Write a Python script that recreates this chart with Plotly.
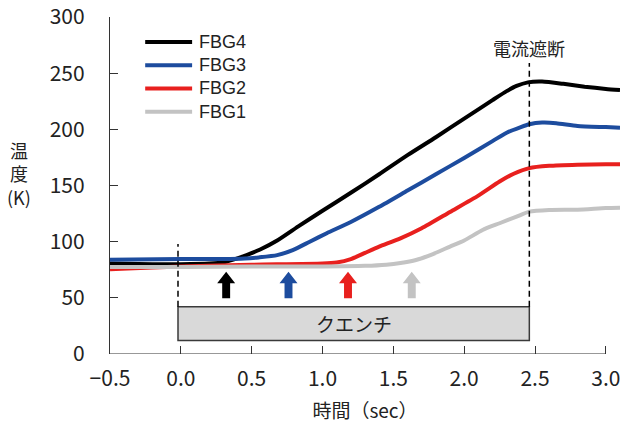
import plotly.graph_objects as go

# ---- measured temperatures of the four FBG sensors (time in s, temperature in K) ----
fbg4_t = [-0.5, -0.2, 0.0, 0.2, 0.3, 0.37, 0.44, 0.56, 0.68, 0.84, 1.0, 1.2, 1.4, 1.6,
          1.8, 2.0, 2.2, 2.3, 2.37, 2.45, 2.55, 2.7, 2.85, 3.0, 3.1]
fbg4_k = [80.5, 80, 80, 80.5, 81.5, 84, 87, 93, 101, 114.5, 127.5, 143.5, 160, 177,
          193, 209.5, 226, 234, 238.6, 241.8, 242.5, 240.5, 238, 236, 235]

fbg3_t = [-0.5, 0.0, 0.3, 0.45, 0.55, 0.68, 0.79, 0.91, 1.03, 1.2, 1.4, 1.6, 1.8, 2.0,
          2.2, 2.3, 2.4, 2.46, 2.55, 2.65, 2.8, 3.0, 3.1]
fbg3_k = [84, 84.5, 84.5, 85, 86, 88, 92.5, 100, 107.5, 117.5, 131, 145.5, 160, 174.5,
          189.5, 197, 202, 204.5, 206, 205.5, 203, 202, 201.5]

fbg2_t = [-0.5, -0.2, 0.0, 0.5, 1.0, 1.1, 1.2, 1.3, 1.4, 1.55, 1.7, 1.9, 2.1, 2.25,
          2.35, 2.46, 2.6, 2.8, 3.0, 3.1]
fbg2_k = [75.5, 77, 78, 79.5, 80.5, 81.5, 84.5, 90, 95.5, 103, 112, 126.5, 141, 153.5,
          160.5, 165.5, 167.5, 168.5, 169, 169]

fbg1_t = [-0.5, 0.0, 0.5, 1.0, 1.3, 1.45, 1.55, 1.66, 1.78, 1.9, 2.0, 2.13, 2.25, 2.37,
          2.46, 2.6, 2.8, 3.0, 3.1]
fbg1_k = [77.5, 77.5, 78, 78, 78.5, 79.5, 81, 83.7, 89, 95.6, 101, 110.4, 116.4, 122.3,
          126.7, 128.2, 128.5, 130, 130.3]

series_names = ["FBG4", "FBG3", "FBG2", "FBG1"]
series_colors = ["#000000", "#1d4c9e", "#e8201e", "#c3c3c3"]
series_t = [fbg4_t, fbg3_t, fbg2_t, fbg1_t]
series_k = [fbg4_k, fbg3_k, fbg2_k, fbg1_k]

# quench onset time of each sensor (arrows), in legend order
onset_t = [0.32, 0.76, 1.18, 1.63]

# quench window and current cut-off
quench_start = -0.02
current_cut = 2.46

x_ticks = [-0.5, 0.0, 0.5, 1.0, 1.5, 2.0, 2.5, 3.0]
x_tick_text = ["\u22120.5", "0.0", "0.5", "1.0", "1.5", "2.0", "2.5", "3.0"]
y_ticks = [0, 50, 100, 150, 200, 250, 300]

FONT = "Noto Sans CJK JP"
LATIN = "Liberation Sans"
TXT = "#222222"
AX = "#333333"

fig = go.Figure()
for name, col, t, k in zip(series_names, series_colors, series_t, series_k):
    fig.add_trace(go.Scatter(x=t, y=k, mode="lines", name=name,
                             line=dict(color=col, width=4, shape="spline", smoothing=0.6),
                             showlegend=False))

shapes = []
# x axis baseline (ends at the last tick)
shapes.append(dict(type="line", xref="x", yref="y", x0=x_ticks[0], x1=x_ticks[-1], y0=0, y1=0,
                   line=dict(color=AX, width=1.2)))

# quench bar
box_lo, box_hi = 12, 42
shapes.append(dict(type="rect", xref="x", yref="y", x0=quench_start, x1=current_cut,
                   y0=box_lo, y1=box_hi, fillcolor="#d9d9d9",
                   line=dict(color="#3a3a3a", width=1.5), layer="below"))
# dashed markers for quench start and current cut-off
shapes.append(dict(type="line", xref="x", yref="y", x0=quench_start, x1=quench_start,
                   y0=box_hi, y1=98, line=dict(color="#000000", width=1.5, dash="6px,4px")))
shapes.append(dict(type="line", xref="x", yref="y", x0=current_cut, x1=current_cut,
                   y0=box_hi, y1=259, line=dict(color="#000000", width=1.5, dash="6px,4px")))

# block arrows marking each sensor's onset
tip, neck, base = 73.3, 63.0, 49.6
head_w, shaft_w = 0.0635, 0.028
for xa, col in zip(onset_t, series_colors):
    path = (f"M {xa} {tip} L {xa + head_w} {neck} L {xa + shaft_w} {neck} "
            f"L {xa + shaft_w} {base} L {xa - shaft_w} {base} L {xa - shaft_w} {neck} "
            f"L {xa - head_w} {neck} Z")
    shapes.append(dict(type="path", xref="x", yref="y", path=path,
                       fillcolor=col, line=dict(width=0)))

# legend drawn as line samples + labels
annotations = []
leg_top, leg_step = 0.926, 0.069
for i, (name, col) in enumerate(zip(series_names, series_colors)):
    yy = leg_top - i * leg_step
    shapes.append(dict(type="line", xref="paper", yref="paper", x0=0.069, x1=0.161,
                       y0=yy, y1=yy, line=dict(color=col, width=4)))
    annotations.append(dict(xref="paper", yref="paper", x=0.172, y=yy, text=name,
                            showarrow=False, xanchor="left", yanchor="middle", borderpad=0,
                            font=dict(family=LATIN, size=18, color=TXT)))

annotations.append(dict(xref="x", yref="y", x=(quench_start + current_cut) / 2,
                        y=(box_lo + box_hi) / 2, text="クエンチ", showarrow=False,
                        font=dict(family=FONT, size=19, color=TXT)))
annotations.append(dict(xref="x", yref="y", x=current_cut, y=272, text="電流遮断",
                        showarrow=False, font=dict(family=FONT, size=18, color=TXT)))
annotations.append(dict(xref="paper", yref="paper", x=-0.178, y=0.535, text="温<br>度<br>(K)",
                        showarrow=False, xanchor="center", yanchor="middle",
                        font=dict(family=FONT, size=18, color=TXT)))

fig.update_layout(
    width=635, height=427,
    margin=dict(l=110, r=15, t=17, b=73, autoexpand=False),
    plot_bgcolor="white", paper_bgcolor="white",
    font=dict(family=FONT, color=TXT),
    shapes=shapes, annotations=annotations,
    xaxis=dict(range=[-0.5, 3.1], showline=False, showgrid=False, zeroline=False,
               automargin=False,
               tickmode="array", tickvals=x_ticks, ticktext=x_tick_text,
               ticks="inside", ticklen=8, tickcolor=AX, tickwidth=1,
               ticklabelstandoff=10,
               tickfont=dict(family=FONT, size=21, color=TXT),
               title=dict(text="時間（sec）", font=dict(family=FONT, size=19, color=TXT),
                          standoff=13)),
    yaxis=dict(range=[0, 300], showline=True, linecolor=AX, linewidth=1.2, showgrid=False,
               zeroline=False, automargin=False, tickmode="array", tickvals=y_ticks,
               ticks="inside", ticklen=8, tickcolor=AX, tickwidth=1,
               ticklabelstandoff=20,
               tickfont=dict(family=FONT, size=21, color=TXT)),
)

fig.write_html("out.html")
